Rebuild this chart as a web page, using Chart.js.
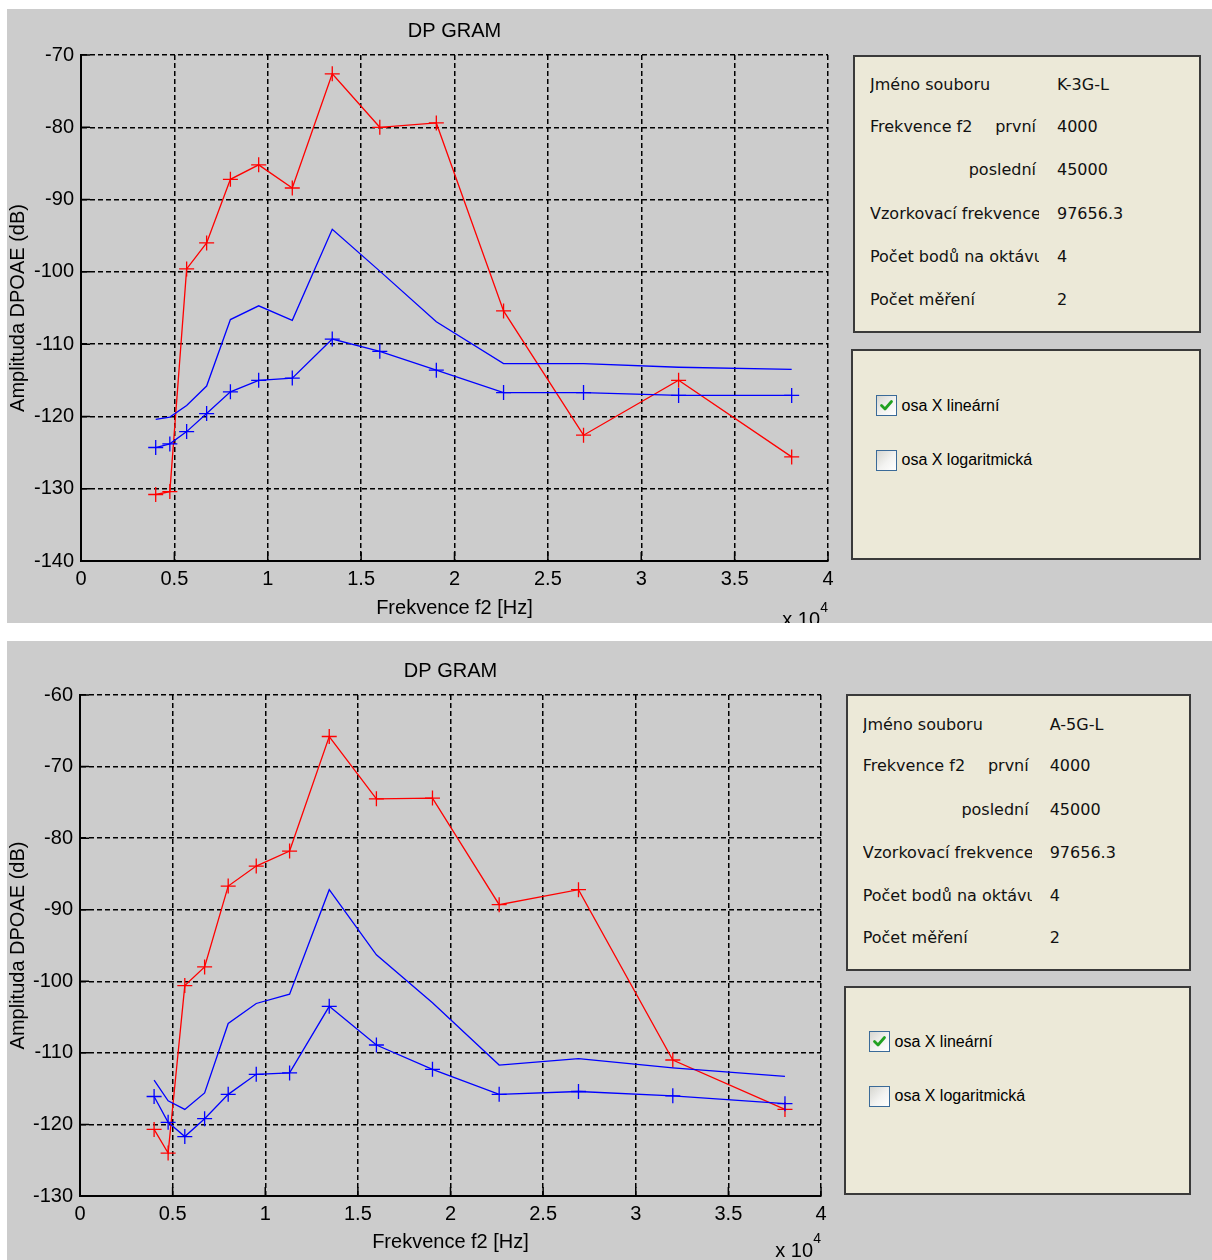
<!DOCTYPE html>
<html lang="cs">
<head>
<meta charset="utf-8">
<title>DP GRAM</title>
<script src="https://cdn.jsdelivr.net/npm/chart.js@4/dist/chart.umd.min.js"></script>
<script>
// f2 frequencies of the measured points (4 points per octave, 4 kHz .. 38 kHz)
const FREQ_HZ = [4000, 4757, 5657, 6727, 8000, 9514, 11314, 13454, 16000, 19027, 22627, 26909, 32000, 38055];

// axis ticks
const X_TICK_VALUES = [0, 5000, 10000, 15000, 20000, 25000, 30000, 35000, 40000];
const X_TICK_LABELS = ['0', '0.5', '1', '1.5', '2', '2.5', '3', '3.5', '4'];
const Y_TICKS_K3G = [-140, -130, -120, -110, -100, -90, -80, -70];
const Y_TICKS_A5G = [-130, -120, -110, -100, -90, -80, -70, -60];

// file K-3G-L (dB)
const K3G_DPOAE = [-130.8, -130.4, -99.6, -96.0, -87.2, -85.2, -88.4, -72.6, -80.0, -79.4, -105.4, -122.6, -115.0, -125.6];
const K3G_NOISE = [-124.3, -123.8, -122.1, -119.6, -116.6, -115.0, -114.7, -109.3, -111.0, -113.6, -116.7, -116.7, -117.1, -117.1];
const K3G_LIMIT = [-120.4, -120.1, -118.5, -115.8, -106.6, -104.7, -106.7, -94.1, -99.9, -106.9, -112.7, -112.7, -113.2, -113.5];

// file A-5G-L (dB)
const A5G_DPOAE = [-120.7, -124.0, -100.6, -98.0, -86.7, -83.9, -81.8, -65.8, -74.5, -74.4, -89.3, -87.2, -111.0, -117.9];
const A5G_NOISE = [-116.1, -119.7, -121.7, -119.2, -115.8, -113.0, -112.8, -103.5, -108.9, -112.3, -115.8, -115.4, -116.0, -117.1];
const A5G_LIMIT = [-113.8, -116.7, -117.9, -115.6, -105.9, -103.1, -101.8, -87.2, -96.3, -103.0, -111.7, -110.8, -112.1, -113.3];
</script>
<style>
  html, body { margin: 0; padding: 0; background: #ffffff; }
  body { width: 1212px; height: 1260px; position: relative; overflow: hidden; }
  .panel { position: absolute; background: #cccccc; overflow: hidden; }
  .panel canvas { position: absolute; left: 0; top: 0; }
  .box { position: absolute; box-sizing: border-box; background: #ece9d8; border: 2px solid #3a3a3a; }
  .row { position: absolute; height: 20px; line-height: 20px; font-size: 16px;
         font-family: "DejaVu Sans", Verdana, sans-serif; color: #111; white-space: nowrap; }
  .lab { left: 15px; width: 169px; overflow: hidden; }
  .lab .r { position: absolute; right: 3px; top: 0; }
  .val { left: 202px; }
  .chk { position: absolute; left: 22.5px; width: 21px; height: 21px; box-sizing: border-box;
         border: 1.5px solid #3a6a98; background: linear-gradient(135deg, #d6d6d0 0%, #f3f3f1 55%, #ffffff 100%); }
  .chk svg { position: absolute; left: 1px; top: 1px; }
  .opt { position: absolute; left: 48.5px; height: 20px; line-height: 20px; font-size: 16px;
         font-family: "Liberation Sans", Arial, sans-serif; color: #000; white-space: nowrap; }
</style>
</head>
<body>

<div class="panel" style="left:7px; top:9px; width:1205px; height:614px;">
  <canvas id="chartK3G" width="833" height="614"></canvas>
  <div class="box" style="left:846px; top:46px; width:348px; height:278px;">
    <div class="row lab" style="top:18px;">Jméno souboru</div>
    <div class="row val" style="top:18px;">K-3G-L</div>
    <div class="row lab" style="top:60px;">Frekvence f2<span class="r">první</span></div>
    <div class="row val" style="top:60px;">4000</div>
    <div class="row lab" style="top:103px;"><span class="r">poslední</span></div>
    <div class="row val" style="top:103px;">45000</div>
    <div class="row lab" style="top:147px;">Vzorkovací frekvence</div>
    <div class="row val" style="top:147px;">97656.3</div>
    <div class="row lab" style="top:190px;">Počet bodů na oktávu</div>
    <div class="row val" style="top:190px;">4</div>
    <div class="row lab" style="top:233px;">Počet měření</div>
    <div class="row val" style="top:233px;">2</div>
  </div>
  <div class="box" style="left:844px; top:340px; width:350px; height:211px;">
    <div class="chk" style="top:43.5px;"><svg width="17" height="17" viewBox="0 0 17 17"><polyline points="3.5,8.5 7,12 13.5,4.5" fill="none" stroke="#21a121" stroke-width="2.8" stroke-linecap="round" stroke-linejoin="round"/></svg></div>
    <div class="opt" style="top:44.5px;">osa X lineární</div>
    <div class="chk" style="top:98.5px;"></div>
    <div class="opt" style="top:99px;">osa X logaritmická</div>
  </div>
</div>

<div class="panel" style="left:7px; top:641px; width:1205px; height:619px;">
  <canvas id="chartA5G" width="833" height="619"></canvas>
  <div class="box" style="left:838.7px; top:53.3px; width:345px; height:277px;">
    <div class="row lab" style="top:18.5px;">Jméno souboru</div>
    <div class="row val" style="top:18.5px;">A-5G-L</div>
    <div class="row lab" style="top:59.5px;">Frekvence f2<span class="r">první</span></div>
    <div class="row val" style="top:59.5px;">4000</div>
    <div class="row lab" style="top:103.5px;"><span class="r">poslední</span></div>
    <div class="row val" style="top:103.5px;">45000</div>
    <div class="row lab" style="top:147px;">Vzorkovací frekvence</div>
    <div class="row val" style="top:147px;">97656.3</div>
    <div class="row lab" style="top:189.5px;">Počet bodů na oktávu</div>
    <div class="row val" style="top:189.5px;">4</div>
    <div class="row lab" style="top:232px;">Počet měření</div>
    <div class="row val" style="top:232px;">2</div>
  </div>
  <div class="box" style="left:837px; top:345px; width:347px; height:209px;">
    <div class="chk" style="top:43px;"><svg width="17" height="17" viewBox="0 0 17 17"><polyline points="3.5,8.5 7,12 13.5,4.5" fill="none" stroke="#21a121" stroke-width="2.8" stroke-linecap="round" stroke-linejoin="round"/></svg></div>
    <div class="opt" style="top:44px;">osa X lineární</div>
    <div class="chk" style="top:97.5px;"></div>
    <div class="opt" style="top:98px;">osa X logaritmická</div>
  </div>
</div>

<script>
const FONT_FAMILY = '"Liberation Sans", Arial, Helvetica, sans-serif';
Chart.defaults.font.family = FONT_FAMILY;
Chart.defaults.font.size = 20;
Chart.defaults.color = '#000000';

// inward tick marks on the left/bottom axes and the "x 10^4" exponent label
const axesDecor = {
  id: 'axesDecor',
  beforeDatasetsDraw(chart, args, opts) {
    const { ctx, chartArea: a, scales: { x, y } } = chart;
    ctx.save();
    ctx.strokeStyle = '#000000';
    ctx.lineWidth = 1.5;
    ctx.setLineDash([]);
    ctx.beginPath();
    x.ticks.forEach(t => {
      const px = x.getPixelForValue(t.value);
      ctx.moveTo(px, a.bottom);
      ctx.lineTo(px, a.bottom - opts.tickLen);
    });
    y.ticks.forEach(t => {
      const py = y.getPixelForValue(t.value);
      ctx.moveTo(a.left, py);
      ctx.lineTo(a.left + opts.tickLen, py);
    });
    ctx.stroke();
    ctx.restore();
  },
  afterDraw(chart, args, opts) {
    const { ctx, chartArea: a } = chart;
    ctx.save();
    ctx.fillStyle = '#000000';
    ctx.textAlign = 'right';
    ctx.textBaseline = 'alphabetic';
    ctx.font = '20px ' + FONT_FAMILY;
    ctx.fillText('x 10', a.right - 8, a.bottom + opts.expBase);
    ctx.font = '14px ' + FONT_FAMILY;
    ctx.fillText('4', a.right, a.bottom + opts.supBase);
    ctx.restore();
  }
};

function series(values, color, markers) {
  return {
    data: FREQ_HZ.map((f, i) => ({ x: f, y: values[i] })),
    borderColor: color,
    borderWidth: 1.3,
    tension: 0,
    fill: false,
    pointStyle: 'cross',
    pointRadius: markers ? 7.5 : 0,
    pointBorderColor: color,
    pointBorderWidth: 1.3,
    pointHoverRadius: 0
  };
}

function dpGram(canvasId, dpoae, noise, limit, yTicks, geo) {
  const gridCfg = { color: '#000000', lineWidth: 1.5, drawTicks: false };
  const borderCfg = { display: true, color: '#000000', width: 2, dash: [5, 3] };
  return new Chart(document.getElementById(canvasId), {
    type: 'line',
    data: {
      datasets: [
        series(limit, '#0000ff', false),
        series(noise, '#0000ff', true),
        series(dpoae, '#ff0000', true)
      ]
    },
    options: {
      responsive: false,
      animation: false,
      events: [],
      layout: { padding: { left: 0, top: 0, right: geo.padRight, bottom: 0 } },
      plugins: {
        legend: { display: false },
        tooltip: { enabled: false },
        title: {
          display: true,
          text: 'DP GRAM',
          fullSize: false,
          color: '#000000',
          font: { size: 20, weight: 'normal', lineHeight: 1.2 },
          padding: { top: geo.titleTop, bottom: geo.titleBottom }
        },
        axesDecor: { tickLen: 9, expBase: geo.expBase, supBase: geo.supBase }
      },
      scales: {
        x: {
          type: 'linear',
          min: X_TICK_VALUES[0],
          max: X_TICK_VALUES[X_TICK_VALUES.length - 1],
          afterBuildTicks: s => { s.ticks = X_TICK_VALUES.map(v => ({ value: v })); },
          afterFit: s => { s.height = geo.xHeight; },
          ticks: {
            autoSkip: false, maxRotation: 0, padding: 6, color: '#000000',
            font: { size: 20 },
            callback: (v, i) => X_TICK_LABELS[i]
          },
          grid: gridCfg,
          border: borderCfg,
          title: {
            display: true, text: 'Frekvence f2 [Hz]', color: '#000000',
            font: { size: 20, lineHeight: 1.2 },
            padding: { top: 0, bottom: geo.xTitlePad }
          }
        },
        y: {
          type: 'linear',
          min: yTicks[0],
          max: yTicks[yTicks.length - 1],
          afterBuildTicks: s => { s.ticks = yTicks.map(v => ({ value: v })); },
          afterFit: s => { s.width = geo.yWidth; },
          ticks: {
            autoSkip: false, padding: 7, color: '#000000',
            font: { size: 20 },
            callback: v => String(v)
          },
          grid: gridCfg,
          border: borderCfg,
          title: {
            display: true, text: 'Amplituda DPOAE (dB)', color: '#000000',
            font: { size: 20, lineHeight: 1 },
            padding: { top: geo.yTitlePad, bottom: 0 }
          }
        }
      }
    },
    plugins: [axesDecor]
  });
}

dpGram('chartK3G', K3G_DPOAE, K3G_NOISE, K3G_LIMIT, Y_TICKS_K3G, {
  padRight: 12, titleTop: 10, titleBottom: 12, xHeight: 62, yWidth: 74,
  xTitlePad: 3, yTitlePad: 1, expBase: 65, supBase: 51
});
dpGram('chartA5G', A5G_DPOAE, A5G_NOISE, A5G_LIMIT, Y_TICKS_A5G, {
  padRight: 19, titleTop: 18, titleBottom: 12, xHeight: 64, yWidth: 73,
  xTitlePad: 6, yTitlePad: 1.5, expBase: 61, supBase: 47
});
</script>
</body>
</html>
